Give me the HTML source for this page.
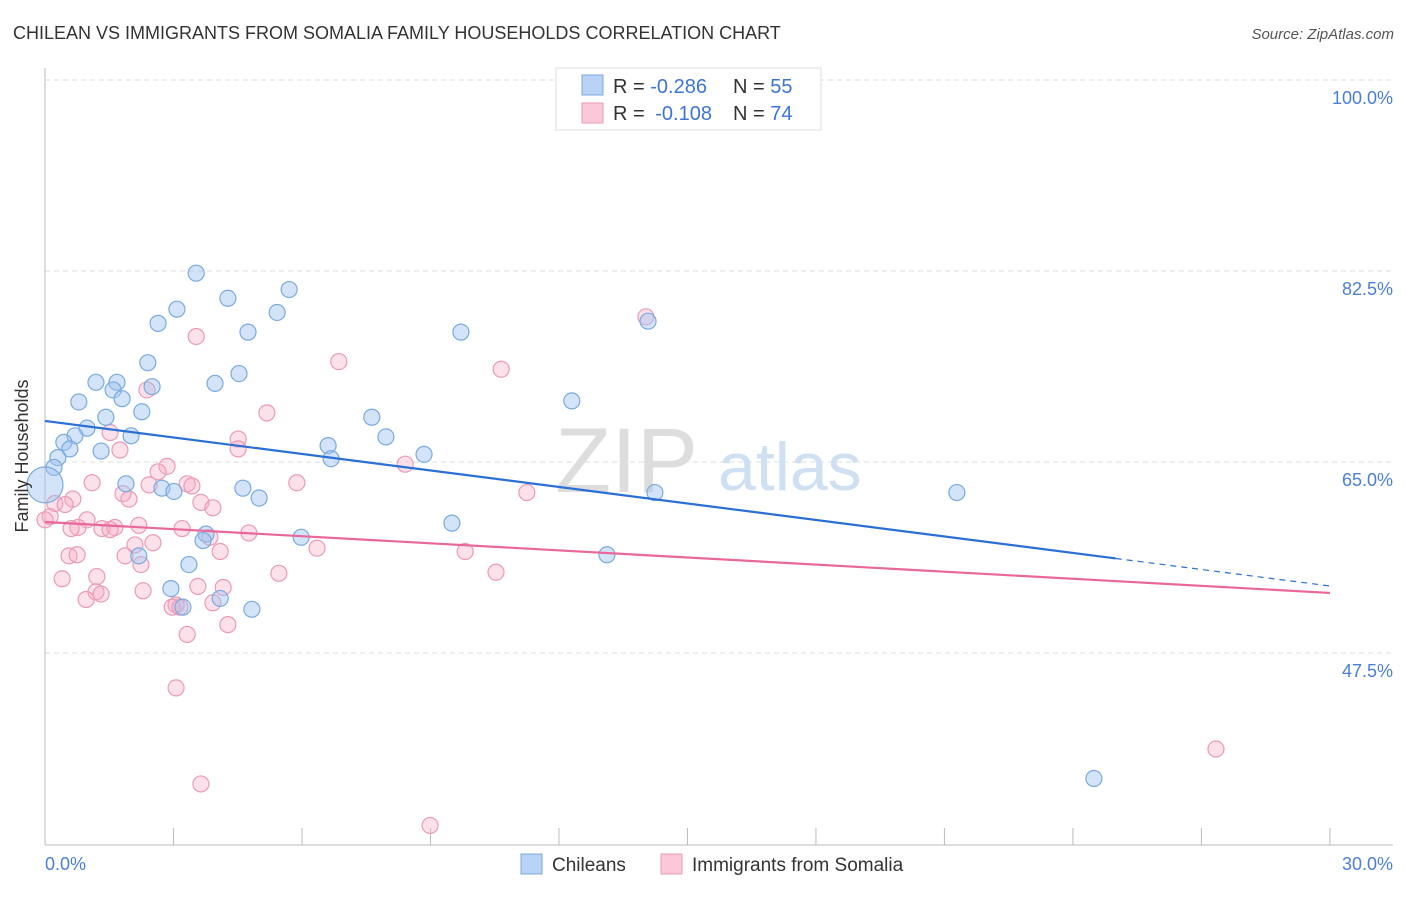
<!DOCTYPE html>
<html><head><meta charset="utf-8"><style>
body{margin:0;background:#fff;font-family:"Liberation Sans",sans-serif}
svg text{font-family:"Liberation Sans",sans-serif}
</style></head><body>
<svg id="chart" width="1406" height="892">
<text x="13" y="39" font-size="18" fill="#333">CHILEAN VS IMMIGRANTS FROM SOMALIA FAMILY HOUSEHOLDS CORRELATION CHART</text>
<text x="1394" y="39" font-size="15" fill="#555" font-style="italic" text-anchor="end">Source: ZipAtlas.com</text>
<g id="grid"></g>
<g><text x="555" y="492" font-size="92" fill="#ddd" font-family="Liberation Serif">ZIP</text><text x="718" y="490" font-size="68" fill="#cfe0f3">atlas</text></g>
<line x1="45" y1="68" x2="45" y2="845" stroke="#bbb"/>
<line x1="45" y1="845" x2="1393" y2="845" stroke="#bbb"/>
<g id="xticks"></g>
<g id="pts"></g>
<g id="lines"></g>
<text x="28" y="456" font-size="18" fill="#333" transform="rotate(-90 28 456)" text-anchor="middle">Family Households</text>
<text x="45" y="870" font-size="18" fill="#4a7fd4">0.0%</text>
<text x="1393" y="870" font-size="18" fill="#4a7fd4" text-anchor="end">30.0%</text>
<g>
<rect x="556" y="68" width="265" height="62" fill="#fff" stroke="#ddd"/>
<rect x="582" y="75" width="21" height="20" fill="#b8d3f5" stroke="#7aaae0"/>
<rect x="582" y="103" width="21" height="20" fill="#fac8d8" stroke="#eb9ab5"/>
<text x="613" y="93" font-size="20" fill="#333">R = <tspan fill="#3d74d4">-0.286</tspan></text>
<text x="733" y="93" font-size="20" fill="#333">N = <tspan fill="#3d74d4">55</tspan></text>
<text x="613" y="120" font-size="20" fill="#333">R = <tspan fill="#3d74d4" dx="5">-0.108</tspan></text>
<text x="733" y="120" font-size="20" fill="#333">N = <tspan fill="#3d74d4">74</tspan></text>
</g>
<g>
<rect x="521" y="854" width="21" height="20" fill="#b8d3f5" stroke="#7aaae0"/>
<text x="552" y="871" font-size="19" fill="#333">Chileans</text>
<rect x="661" y="854" width="21" height="20" fill="#fac8d8" stroke="#eb9ab5"/>
<text x="692" y="871" font-size="19" fill="#333">Immigrants from Somalia</text>
</g>
</svg>
<script>
const yTicks=[100,82.5,65,47.5];
const yTickLabels=["100.0%","82.5%","65.0%","47.5%"];
const xTickVals=[3,6,9,12,15,18,21,24,27,30];
const blueX=[3.53,5.70,4.27,3.08,5.42,2.64,4.74,9.71,14.08,2.40,4.53,2.50,1.19,1.68,3.97,1.59,1.80,0.79,12.30,2.26,1.42,7.63,0.98,0.70,2.01,0.44,7.96,0.58,6.61,1.31,0.30,6.68,8.85,0.21,1.89,4.62,2.73,3.01,5.00,14.24,21.29,9.50,3.76,3.69,5.98,13.12,2.19,3.36,2.94,4.09,3.22,4.83,24.49,0];
const blueY=[82.3,80.8,80.0,79.0,78.7,77.7,76.9,76.9,77.9,74.1,73.1,71.9,72.3,72.3,72.2,71.6,70.8,70.5,70.6,69.6,69.1,69.1,68.1,67.4,67.4,66.8,67.3,66.2,66.5,66.0,65.4,65.3,65.7,64.5,63.0,62.6,62.6,62.3,61.7,62.2,62.2,59.4,58.4,57.8,58.1,56.5,56.4,55.6,53.4,52.5,51.7,51.5,36.0,62.9];
const pinkX=[14.03,3.53,6.86,10.65,2.38,5.18,1.52,4.51,4.51,1.75,8.41,2.85,2.64,1.10,2.43,3.32,3.43,5.88,11.25,1.82,1.96,0.65,3.64,0.23,0.47,3.92,0.12,0.98,0,2.19,0.77,0.61,1.33,1.63,3.20,1.52,4.76,3.85,2.52,2.10,6.35,4.09,0.56,0.75,1.87,9.81,2.24,1.21,5.46,10.53,0.40,3.57,4.16,2.29,1.19,1.31,0.96,3.92,3.06,2.97,3.15,4.27,3.32,3.06,3.64,8.99,27.34];
const pinkY=[78.3,76.5,74.2,73.5,71.6,69.5,67.7,67.1,66.2,66.1,64.8,64.6,64.1,63.1,62.9,63.0,62.8,63.1,62.2,62.1,61.6,61.6,61.3,61.2,61.1,60.8,60.0,59.7,59.7,59.2,59.0,58.9,58.9,59.0,58.9,58.8,58.5,58.1,57.6,57.4,57.1,56.8,56.4,56.5,56.4,56.8,55.6,54.5,54.8,54.9,54.3,53.6,53.5,53.2,53.1,52.9,52.4,52.1,51.9,51.7,51.7,50.1,49.2,44.3,35.5,31.7,38.7];
const blueTrend=[68.76,53.64];
const pinkTrend=[59.5,53.0];
const X=v=>45+v*42.83, Y=v=>80+(100-v)*10.914;
const NS="http://www.w3.org/2000/svg";
function mk(tag,attrs,parent){const e=document.createElementNS(NS,tag);for(const k in attrs)e.setAttribute(k,attrs[k]);document.getElementById(parent).appendChild(e);return e;}
yTicks.forEach((v,i)=>{
 const l=mk('line',{x1:45,x2:1393,y1:Y(v),y2:Y(v),stroke:'#ddd','stroke-dasharray':'5,4'},'grid');
 
 
 const t=mk('text',{x:1393,y:Y(v)+24,'font-size':18,fill:'#4a7fd4','text-anchor':'end'},'grid');
 t.textContent=yTickLabels[i];
 
 
});
xTickVals.forEach(v=>{
 const l=mk('line',{x1:X(v),x2:X(v),y1:828,y2:845,stroke:'#bbb'},'xticks');
 
 
});
pinkX.forEach((x,i)=>{
 const c=mk('circle',{cx:X(x),cy:Y(pinkY[i]),r:8,fill:'rgba(246,170,196,0.35)',stroke:'#eb9ab5','stroke-width':1.2},'pts');
 
 
});
blueX.forEach((x,i)=>{
 const big=i===blueX.length-1;
 const c=mk('circle',{cx:X(x),cy:Y(blueY[i]),r:big?18:8,fill:'rgba(160,196,240,0.45)',stroke:'#7aaae0','stroke-width':1.2},'pts');
 
 
});
const bx=25;const by=blueTrend[0]+(blueTrend[1]-blueTrend[0])*bx/30;
let l1=mk('line',{x1:X(0),y1:Y(blueTrend[0]),x2:X(bx),y2:Y(by),stroke:'#2a6fd6','stroke-width':2.2},'lines');


let l2=mk('line',{x1:X(bx),y1:Y(by),x2:X(30),y2:Y(blueTrend[1]),stroke:'#2a6fd6','stroke-width':1.2,'stroke-dasharray':'6,5'},'lines');


let l3=mk('line',{x1:X(0),y1:Y(pinkTrend[0]),x2:X(30),y2:Y(pinkTrend[1]),stroke:'#e8689a','stroke-width':2.2},'lines');


</script>
</body></html>
